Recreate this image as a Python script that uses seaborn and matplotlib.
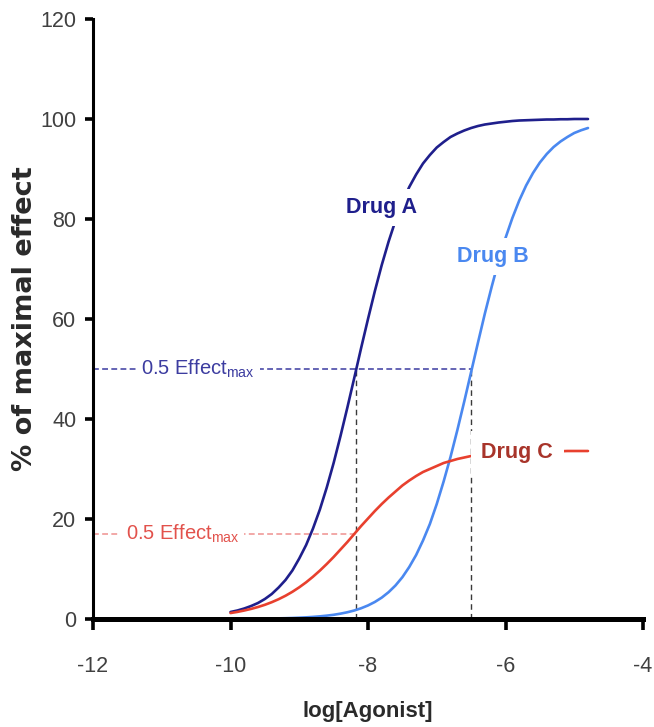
import matplotlib
matplotlib.use("Agg")
import matplotlib.pyplot as plt
import seaborn as sns
import pandas as pd

# ---------------- data ----------------
log_agonist = [-10.0, -9.9, -9.8, -9.7, -9.6, -9.5, -9.4, -9.3, -9.2, -9.1,
               -9.0, -8.9, -8.8, -8.7, -8.6, -8.5, -8.4, -8.3, -8.2, -8.1,
               -8.0, -7.9, -7.8, -7.7, -7.6, -7.5, -7.4, -7.3, -7.2, -7.1,
               -7.0, -6.9, -6.8, -6.7, -6.6, -6.5, -6.4, -6.3, -6.2, -6.1,
               -6.0, -5.9, -5.8, -5.7, -5.6, -5.5, -5.4, -5.3, -5.2, -5.1,
               -5.0, -4.9, -4.8]
drug_a = [1.4, 1.7, 2.1, 2.6, 3.2, 4.0, 5.0, 6.3, 7.8, 9.7,
          12.1, 14.8, 18.1, 21.9, 26.3, 31.2, 36.6, 42.3, 48.2, 54.2,
          60.0, 65.6, 70.8, 75.5, 79.7, 83.3, 86.4, 88.9, 91.1, 92.8,
          94.3, 95.4, 96.4, 97.1, 97.7, 98.2, 98.6, 98.9, 99.1, 99.3,
          99.45, 99.6, 99.7, 99.75, 99.8, 99.85, 99.9, 99.9, 99.95, 99.95,
          100.0, 100.0, 100.0]
drug_b = [0.02, 0.03, 0.04, 0.05, 0.06, 0.08, 0.10, 0.13, 0.16, 0.20,
          0.26, 0.33, 0.42, 0.53, 0.67, 0.84, 1.07, 1.35, 1.70, 2.15,
          2.71, 3.41, 4.28, 5.37, 6.71, 8.36, 10.4, 12.8, 15.7, 19.0,
          23.0, 27.5, 32.4, 37.8, 43.5, 49.4, 55.3, 61.1, 66.5, 71.6,
          76.2, 80.2, 83.7, 86.7, 89.2, 91.3, 93.0, 94.4, 95.5, 96.4,
          97.2, 97.75, 98.2]
drug_c = [1.19, 1.42, 1.70, 2.02, 2.40, 2.84, 3.36, 3.96, 4.65, 5.44,
          6.34, 7.34, 8.46, 9.68, 11.0, 12.4, 13.9, 15.4, 17.0, 18.6,
          20.1, 21.6, 23.0, 24.3, 25.5, 26.7, 27.7, 28.6, 29.4, 30.0,
          30.6, 31.2, 31.6, 32.0, 32.3, 32.6, 32.8, 33.0, 33.1, 33.2,
          33.3, 33.35, 33.4, 33.45, 33.5, 33.5, 33.5, 33.55, 33.55, 33.6,
          33.6, 33.6, 33.6]
drug_names = ["Drug A", "Drug B", "Drug C"]

ec50_a = -8.17          # log EC50 of drug A (and C)
ec50_b = -6.50          # log EC50 of drug B
half_full = 50          # 0.5 Effect_max for A and B
half_partial = 17       # 0.5 Effect_max for C

x_ticks = [-12, -10, -8, -6, -4]
y_ticks = [0, 20, 40, 60, 80, 100, 120]

# ---------------- style ----------------
sns.set_theme(style="white")
plt.rcParams["font.family"] = ["Liberation Sans", "DejaVu Sans"]
plt.rcParams["axes.unicode_minus"] = False
plt.rcParams["mathtext.fontset"] = "custom"
plt.rcParams["mathtext.rm"] = "Liberation Sans"

col_a = "#1f1f8c"
col_b = "#4a88f0"
col_c = "#e8402e"
col_c_txt = "#a8342a"
col_half_blue = "#4a4aa8"
col_half_blue_txt = "#3c3ca0"
col_half_red = "#f09a98"
col_half_red_txt = "#e2524c"

n = len(log_agonist)
df = pd.DataFrame({
    "log": log_agonist * 3,
    "effect": drug_a + drug_b + drug_c,
    "drug": [drug_names[0]] * n + [drug_names[1]] * n + [drug_names[2]] * n,
})

fig = plt.figure(figsize=(6.54, 7.27), dpi=100)
ax = fig.add_axes([93 / 654, 1 - 619 / 727, 550 / 654, 600 / 727])

# guide lines
ax.plot([x_ticks[0], ec50_b], [half_full, half_full], color=col_half_blue,
        lw=1.2, ls=(0, (3.5, 2)), zorder=1.5)
ax.plot([x_ticks[0], ec50_a], [half_partial, half_partial], color=col_half_red,
        lw=1.2, ls=(0, (3.5, 2)), zorder=1.5)
for xv in (ec50_a, ec50_b):
    ax.plot([xv, xv], [0, half_full], color="#3a3a3a", lw=1.0,
            ls=(0, (4, 3)), zorder=1.5)

sns.lineplot(data=df, x="log", y="effect", hue="drug",
             palette={drug_names[0]: col_a, drug_names[1]: col_b,
                      drug_names[2]: col_c},
             linewidth=1.9, legend=False, ax=ax, zorder=2.5)

ax.set_xlim(x_ticks[0], x_ticks[-1])
ax.set_ylim(y_ticks[0], y_ticks[-1])
ax.set_xticks(x_ticks)
ax.set_yticks(y_ticks)

for s in ("top", "right"):
    ax.spines[s].set_visible(False)
ax.spines["left"].set_linewidth(2.2)
ax.spines["bottom"].set_linewidth(3.6)
ax.spines["left"].set_color("black")
ax.spines["bottom"].set_color("black")

ax.tick_params(axis="y", left=True, direction="out", length=6, width=2.6,
               pad=6, labelsize=15.5, labelcolor="#404040", color="black")
ax.tick_params(axis="x", bottom=True, direction="out", length=8, width=2.6,
               pad=19, labelsize=15.5, labelcolor="#404040", color="black")

ax.set_xlabel("log[Agonist]", fontsize=16, fontweight="bold",
              color="#2a2a2a", labelpad=17)
ax.set_ylabel("% of maximal effect", family=["DejaVu Sans"], fontsize=19.5,
              fontweight="bold", color="#2a2a2a")
ax.yaxis.set_label_coords(-0.100, 0.5)

bbox = dict(boxstyle="square,pad=0.35", fc="white", ec="none")
ax.text(-7.80, 82.3, "Drug A", color=col_a, fontsize=15.5,
        fontweight="bold", ha="center", va="center", bbox=bbox, zorder=4)
ax.text(-6.19, 72.5, "Drug B", color=col_b, fontsize=15.5,
        fontweight="bold", ha="center", va="center", bbox=bbox, zorder=4)
ax.text(-5.83, 33.3, "Drug C", color=col_c_txt, fontsize=15.5,
        fontweight="bold", ha="center", va="center",
        bbox=dict(boxstyle="square,pad=0.5", fc="white", ec="none"), zorder=4)

ax.text(-10.47, half_full, "0.5 Effect$_{\\mathregular{max}}$",
        color=col_half_blue_txt, fontsize=14.5, ha="center", va="center",
        bbox=dict(boxstyle="square,pad=0.25", fc="white", ec="none"), zorder=4)
ax.text(-10.7, half_partial, "0.5 Effect$_{\\mathregular{max}}$",
        color=col_half_red_txt, fontsize=14.5, ha="center", va="center",
        bbox=dict(boxstyle="square,pad=0.25", fc="white", ec="none"), zorder=4)

fig.savefig("out.png", dpi=100)
